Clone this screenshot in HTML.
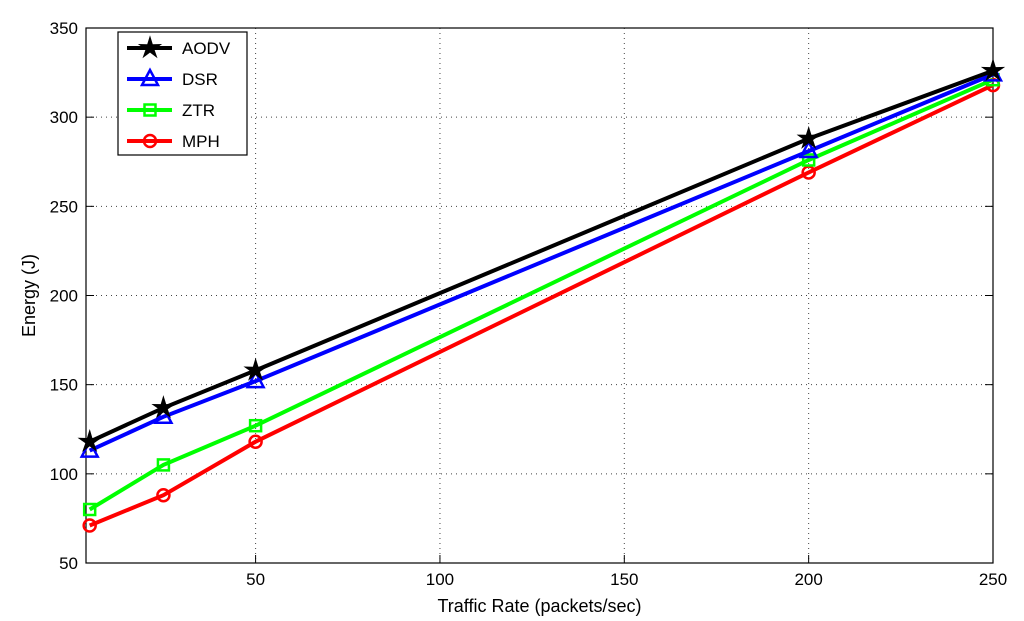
<!DOCTYPE html>
<html><head><meta charset="utf-8"><style>
body{margin:0;background:#fff}
svg{display:block;font-family:"Liberation Sans",Arial,sans-serif}
</style></head><body>
<svg id="chart" width="1024" height="621" viewBox="0 0 1024 621">
<g id="grid"></g>
<g id="axes"></g>
<g id="series"></g>
<g id="legend"></g>
</svg>
<script>
const xValues = [5, 25, 50, 200, 250];
const aodv = [118, 137, 158, 288, 326];
const dsr = [113, 132, 152, 281, 324];
const ztr = [80, 105, 127, 276, 321];
const mph = [71, 88, 118, 269, 318];
const xTicks = [50, 100, 150, 200, 250];
const yTicks = [50, 100, 150, 200, 250, 300, 350];
const seriesNames = ["AODV", "DSR", "ZTR", "MPH"];

const L=86,R=993,T=28,B=563,XMIN=4,XMAX=250,YMIN=50,YMAX=350;
const NS="http://www.w3.org/2000/svg";
function sx(v){return L+(v-XMIN)/(XMAX-XMIN)*(R-L);}
function sy(v){return B-(v-YMIN)/(YMAX-YMIN)*(B-T);}
function mk(tag,attrs,parent){const e=document.createElementNS(NS,tag);for(const k in attrs)e.setAttribute(k,attrs[k]);parent.appendChild(e);return e;}
const grid=document.getElementById('grid'),axes=document.getElementById('axes'),ser=document.getElementById('series'),leg=document.getElementById('legend');
xTicks.forEach(t=>{
 const x=sx(t);
 if(t<XMAX){const g=mk('line',{x1:x,x2:x,y1:T,y2:B,stroke:'#444','stroke-width':1,'stroke-dasharray':'1,4'},grid);
 
 }
 const k=mk('line',{x1:x,x2:x,y1:B,y2:B-8,stroke:'#000'},axes);
 const tx=mk('text',{x:x,y:B+22,'text-anchor':'middle','font-size':17},axes);tx.textContent=t;
 
 
});
yTicks.forEach(t=>{
 const y=sy(t);
 if(t>YMIN&&t<YMAX){const g=mk('line',{x1:L,x2:R,y1:y,y2:y,stroke:'#444','stroke-width':1,'stroke-dasharray':'1,4'},grid);
 
 }
 mk('line',{x1:L,x2:L+8,y1:y,y2:y,stroke:'#000'},axes);
 mk('line',{x1:R,x2:R-8,y1:y,y2:y,stroke:'#000'},axes);
 const tx=mk('text',{x:L-8,y:y+6,'text-anchor':'end','font-size':17},axes);tx.textContent=t;
 
 
});
const frame=mk('rect',{x:L,y:T,width:R-L,height:B-T,fill:'none',stroke:'#000','stroke-width':1.2},axes);


const xt=mk('text',{x:(L+R)/2,y:612,'text-anchor':'middle','font-size':18},axes);xt.textContent='Traffic Rate (packets/sec)';


const yt=mk('text',{x:0,y:0,'text-anchor':'middle','font-size':18,transform:'translate(35,'+((T+B)/2)+') rotate(-90)'},axes);yt.textContent='Energy (J)';



function marker(kind,x,y,color,p){
 if(kind==='star'){let pts=[];for(let i=0;i<10;i++){const r=i%2?4:11,a=-Math.PI/2+i*Math.PI/5;pts.push((x+r*Math.cos(a)).toFixed(1)+','+(y+r*Math.sin(a)).toFixed(1));}
  return mk('polygon',{points:pts.join(' '),fill:color,stroke:color,'stroke-width':1},p);}
 if(kind==='tri')return mk('polygon',{points:`${x},${y-9} ${x-8},${y+6} ${x+8},${y+6}`,fill:'none',stroke:color,'stroke-width':2.5},p);
 if(kind==='sq')return mk('rect',{x:x-5.5,y:y-5.5,width:11,height:11,fill:'none',stroke:color,'stroke-width':2.5},p);
 return mk('circle',{cx:x,cy:y,r:6,fill:'none',stroke:color,'stroke-width':2.5},p);
}
const all=[aodv,dsr,ztr,mph],colors=['#000','#0000ff','#00ff00','#ff0000'],kinds=['star','tri','sq','circ'];
[3,2,1,0].forEach(i=>{
 const g=mk('g',{},ser);
 
 
 const pts=all[i].map((v,j)=>sx(xValues[j]).toFixed(1)+','+sy(v).toFixed(1)).join(' ');
 mk('polyline',{points:pts,fill:'none',stroke:colors[i],'stroke-width':4},g);
 all[i].forEach((v,j)=>{const m=marker(kinds[i],sx(xValues[j]),sy(v),colors[i],g);
  
  });
});
const lb=mk('rect',{x:118,y:32,width:129,height:123,fill:'#fff',stroke:'#000','stroke-width':1.2},leg);


seriesNames.forEach((n,i)=>{
 const y=48+i*31;
 const g=mk('g',{},leg);
 
 
 mk('line',{x1:127,x2:172,y1:y,y2:y,stroke:colors[i],'stroke-width':4},g);
 marker(kinds[i],150,y,colors[i],g);
 const t=mk('text',{x:182,y:y+6,'font-size':17},g);t.textContent=n;
});
</script>
</body></html>
